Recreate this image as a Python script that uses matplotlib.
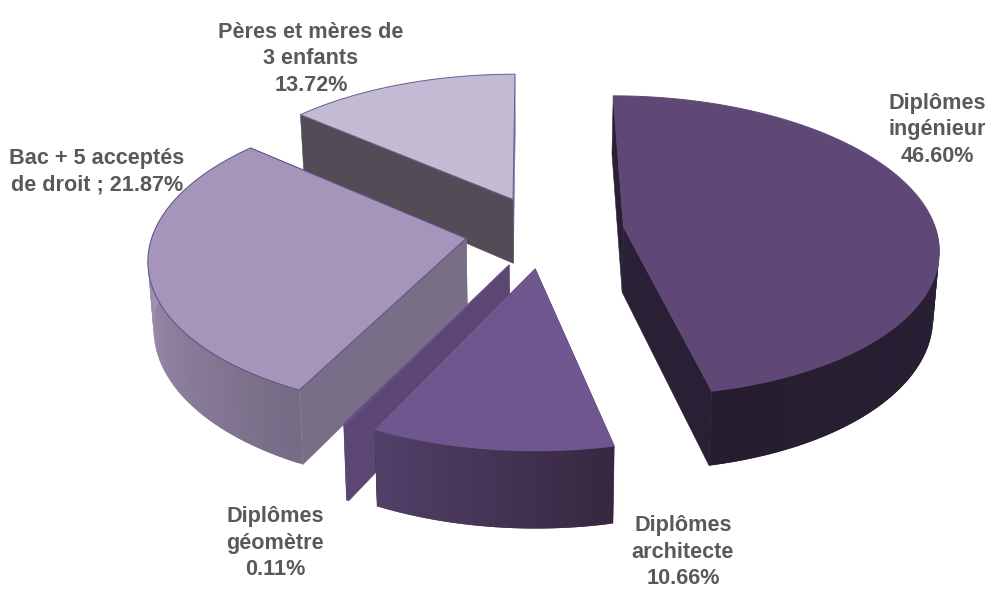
import numpy as np
import matplotlib
matplotlib.use('Agg')
import matplotlib.pyplot as plt
from matplotlib.colors import to_rgb

categories = ['Diplômes\ningénieur', 'Diplômes\narchitecte', 'Diplômes\ngéomètre',
              'Bac + 5 acceptés\nde droit ;', 'Pères et mères de\n3 enfants']
values = [46.60, 10.66, 0.11, 21.87, 13.72]
# the slice of Bac + 5 is drawn wider than its label says, the sum of labels is not 100
unlabelled = [0, 0, 0, 7.04, 0]

# explosion of every slice in the pie plane (sideways, towards the viewer)
offsets = [(0.297, 0.04), (0.013, 0.315), (-0.068, 0.29), (-0.206, 0.117), (-0.059, -0.15)]
top_colors = ['#5F4876', '#6F568F', '#5C4674', '#A595BB', '#C3BBD4']
rim_colors = [('#2A2036', '#271D30'), ('#372841', '#514068'), ('#5C4674', '#5C4674'),
              ('#766B85', '#A293B3'), ('#8A7BA3', '#8A7BA3')]
start_faces = ['#2A2035', '#3A2B48', '#5C4674', '#796E87', '#514C55']
end_faces = ['#2A2035', '#3A2B48', '#5C4674', '#796E87', '#8070A0']
edge_colors = ['#5F4876', '#6F568F', '#6A5590', '#5E4E82', '#6A5C90']

label_pos = [(937, 130), (683, 552), (275, 543), (97, 172), (311, 59)]

x0, y0 = 531, 221
A, B, H, k = 310, 146, 65, 0.125
low_shrink = 0.985


def project(x, v, down=False):
    s = 1 / (1 - k * v)
    if down:
        return x0 + A * x * s * low_shrink, y0 + B * v * s + H * s
    return x0 + A * x * s, y0 + B * v * s


def rim_point(theta, off):
    return off[0] + np.sin(theta), off[1] - np.cos(theta)


fig = plt.figure(figsize=(9.88, 5.9), dpi=100)
ax = fig.add_axes([0, 0, 1, 1])
ax.set_xlim(0, 988)
ax.set_ylim(590, 0)
ax.axis('off')

sweeps = (np.array(values) + np.array(unlabelled)) / 100 * 2 * np.pi
ends = np.cumsum(sweeps)
starts = ends - sweeps


def draw_slice(i, z):
    off = offsets[i]
    thetas = np.linspace(starts[i], ends[i], max(int(np.degrees(sweeps[i])), 2))
    xs, vs = rim_point(thetas, off)
    top_x, top_y = project(xs, vs)
    low_x, low_y = project(xs, vs, down=True)
    apex_x, apex_y = project(off[0], off[1])
    apex_lx, apex_ly = project(off[0], off[1], down=True)

    # both cut faces first, the top hides them when they look away
    for j, col in ((-1, end_faces[i]), (0, start_faces[i])):
        ax.fill([apex_x, top_x[j], low_x[j], apex_lx], [apex_y, top_y[j], low_y[j], apex_ly],
                facecolor=col, edgecolor=col, lw=0.4, zorder=z + 1)

    # rim as small strips for the gradient, only the part turned to the viewer
    front = np.where(np.cos(thetas) < 0.05)[0]
    c0, c1 = np.array(to_rgb(rim_colors[i][0])), np.array(to_rgb(rim_colors[i][1]))
    for m, n in enumerate(front[:-1]):
        t = m / max(1, len(front) - 2)
        col = c0 + (c1 - c0) * t
        # one step of overlap, no seams between strips
        e = min(n + 2, len(thetas) - 1)
        ax.fill([top_x[n], top_x[e], low_x[e], low_x[n]],
                [top_y[n], top_y[e], low_y[e], low_y[n]],
                facecolor=col, edgecolor='none', lw=0, zorder=z + 2 + m * 0.001)

    ax.fill(np.r_[apex_x, top_x], np.r_[apex_y, top_y], facecolor=top_colors[i],
            edgecolor=edge_colors[i], lw=0.7, zorder=z + 5)


# back slices first
for z, i in enumerate([4, 3, 0, 2, 1]):
    draw_slice(i, z * 10)

for name, val, (lx, ly) in zip(categories, values, label_pos):
    sep = ' ' if name.endswith(';') else '\n'
    ax.text(lx, ly, f'{name}{sep}{val:.2f}%', ha='center', va='center', multialignment='center',
            family='Liberation Sans', weight='bold', fontsize=15.6, color='#595959',
            linespacing=1.36, zorder=100)

fig.savefig('out.png', dpi=100)
